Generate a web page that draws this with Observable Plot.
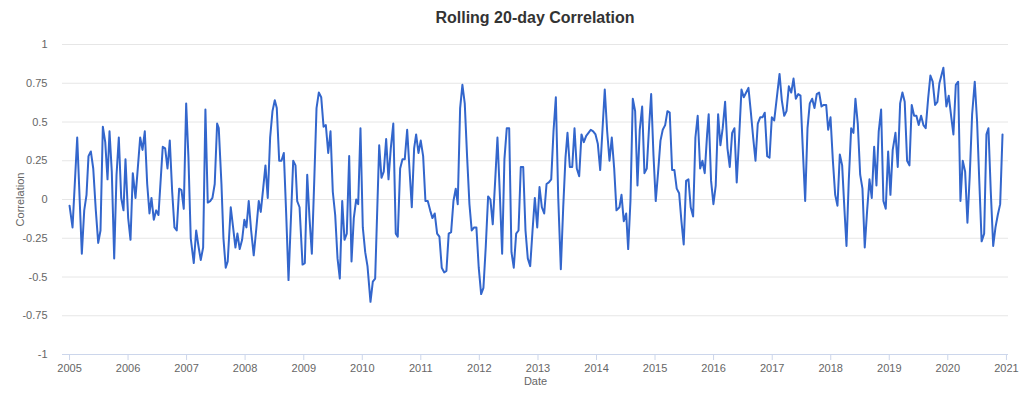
<!DOCTYPE html>
<html><head><meta charset="utf-8">
<script src="https://cdn.jsdelivr.net/npm/d3@7"></script>
<script src="https://cdn.jsdelivr.net/npm/@observablehq/plot@0.6"></script>
<style>
body{margin:0;background:#fff;font-family:"Liberation Sans",Arial,sans-serif;}
#title{height:30px;box-sizing:border-box;padding:9px 16px 0 62px;text-align:center;font-size:16px;font-weight:bold;color:#333;line-height:18px;}
</style></head><body>
<div id="title">Rolling 20-day Correlation</div>
<div id="chart"></div>
<script>
// decimal-year dates
const years = [
2005.000,2005.051,2005.131,2005.210,2005.251,2005.290,2005.324,2005.364,2005.405,2005.449,2005.490,2005.529,2005.569,2005.610,2005.649,2005.683,2005.722,2005.763,2005.803,2005.842,2005.883,2005.922,2005.956,2006.002,2006.042,2006.081,2006.127,
2006.207,2006.247,2006.286,2006.327,2006.366,2006.400,2006.440,2006.481,2006.520,2006.593,2006.634,2006.674,2006.713,2006.754,2006.793,2006.832,2006.873,2006.913,2006.952,2006.993,2007.032,2007.071,2007.123,2007.164,2007.203,2007.242,2007.283,2007.322,2007.362,2007.403,2007.442,2007.481,2007.522,
2007.550,2007.596,2007.630,2007.669,2007.703,2007.755,2007.795,2007.835,2007.869,2007.908,2007.949,2007.988,2008.023,2008.062,2008.103,2008.147,2008.188,2008.233,2008.267,2008.308,2008.347,2008.386,2008.427,2008.467,2008.506,2008.540,2008.581,2008.620,2008.660,2008.701,2008.740,2008.820,2008.859,
2008.888,2008.928,2008.979,2009.018,2009.059,2009.098,2009.138,2009.179,2009.218,2009.257,2009.298,2009.338,2009.377,2009.418,2009.457,2009.496,2009.537,2009.577,2009.616,2009.657,2009.696,2009.735,2009.776,2009.816,2009.855,2009.896,2009.930,2009.969,2010.009,2010.050,2010.089,2010.140,2010.180,2010.220,
2010.289,2010.328,2010.367,2010.408,2010.448,2010.487,2010.530,2010.572,2010.606,2010.647,2010.687,2010.726,2010.767,2010.806,2010.846,2010.886,2010.920,2010.960,2010.999,2011.040,2011.079,2011.119,2011.160,2011.199,2011.238,2011.279,2011.318,2011.358,2011.399,2011.438,2011.477,2011.518,2011.558,2011.597,2011.631,
2011.672,2011.711,2011.751,2011.792,2011.831,2011.870,2011.911,2011.950,2011.990,2012.031,2012.070,2012.109,2012.150,2012.189,2012.229,2012.270,2012.309,2012.348,2012.389,2012.428,2012.468,2012.509,2012.548,2012.587,2012.628,2012.668,2012.707,2012.748,2012.787,2012.826,2012.867,2012.907,2012.946,2012.987,
2013.026,2013.066,2013.106,2013.146,2013.185,2013.226,2013.265,2013.305,2013.346,2013.390,2013.431,2013.470,2013.504,2013.544,2013.585,2013.624,2013.663,2013.704,2013.743,2013.783,2013.824,2013.863,2013.902,2013.943,2013.983,2014.022,2014.063,2014.102,2014.141,2014.182,2014.222,2014.261,2014.302,2014.341,
2014.392,2014.427,2014.466,2014.507,2014.541,2014.580,2014.620,2014.660,2014.700,2014.739,2014.780,2014.819,2014.859,2014.900,2014.934,2014.973,2015.012,2015.053,2015.093,2015.132,2015.173,2015.212,2015.251,2015.292,2015.331,2015.371,2015.412,2015.451,2015.490,2015.531,2015.571,2015.610,2015.651,2015.690,2015.729,
2015.771,2015.810,2015.849,2015.890,2015.917,2015.958,2015.998,2016.037,2016.078,2016.117,2016.156,2016.197,2016.237,2016.276,2016.317,2016.356,2016.395,2016.436,2016.476,2016.515,2016.556,2016.595,2016.634,2016.675,2016.715,2016.754,2016.795,2016.834,2016.873,2016.914,2016.954,2016.993,2017.034,
2017.125,2017.164,2017.205,2017.244,2017.284,2017.325,2017.364,2017.403,2017.444,2017.483,2017.522,2017.563,2017.603,2017.642,2017.683,2017.722,2017.761,2017.802,2017.842,2017.881,2017.922,2017.956,2017.996,2018.035,2018.076,2018.115,2018.155,2018.195,2018.235,2018.269,2018.308,2018.349,2018.388,2018.422,
2018.462,2018.503,2018.542,2018.581,2018.622,2018.662,2018.701,2018.742,2018.781,2018.820,2018.861,2018.900,2018.940,2018.981,2019.020,2019.059,2019.106,2019.145,2019.186,2019.225,2019.264,2019.305,2019.345,2019.384,2019.425,2019.464,2019.503,2019.544,2019.584,2019.623,2019.664,2019.703,2019.742,2019.783,2019.823,
2019.857,2019.891,2019.925,2019.976,2020.016,2020.057,2020.096,2020.137,2020.177,2020.216,2020.255,2020.296,2020.335,2020.374,2020.415,2020.460,2020.500,2020.539,2020.577,2020.620,2020.659,2020.693,2020.733,2020.774,2020.813,2020.852,2020.893,2020.933
];
// rolling 20-day correlation values
const corr = [
-0.04,-0.18,0.40,-0.35,-0.07,0.03,0.28,0.31,0.20,-0.07,-0.28,-0.20,0.47,0.37,0.13,0.44,0.18,-0.38,0.16,0.40,0.01,-0.07,0.26,-0.12,-0.26,0.17,0.01,
0.40,0.32,0.44,0.10,-0.09,0.01,-0.13,-0.07,-0.10,0.34,0.33,0.20,0.38,0.05,-0.18,-0.20,0.07,0.06,-0.06,0.62,0.27,-0.25,-0.41,-0.20,-0.30,-0.39,-0.31,0.58,-0.02,-0.01,0.01,0.10,0.49,
0.46,0.10,-0.25,-0.44,-0.40,-0.05,-0.18,-0.31,-0.22,-0.32,-0.26,-0.13,-0.18,-0.01,-0.20,-0.36,-0.20,-0.01,-0.08,0.07,0.22,0.01,0.40,0.57,0.64,0.59,0.25,0.25,0.30,-0.10,-0.52,0.25,0.22,
-0.01,-0.05,-0.42,-0.41,0.16,-0.12,-0.35,0.12,0.59,0.69,0.66,0.47,0.48,0.30,0.44,0.05,-0.10,-0.38,-0.51,-0.01,-0.26,-0.22,0.28,-0.40,-0.12,0.00,-0.03,0.46,-0.18,-0.34,-0.43,-0.66,-0.53,-0.51,
0.35,0.14,0.18,0.39,0.13,0.33,0.49,-0.22,-0.24,0.20,0.26,0.26,0.45,0.20,-0.05,0.33,0.42,0.30,0.38,0.28,-0.01,-0.01,-0.07,-0.12,-0.09,-0.22,-0.24,-0.44,-0.47,-0.46,-0.22,-0.21,-0.01,0.07,-0.03,
0.59,0.74,0.62,0.27,-0.03,-0.20,-0.18,-0.18,-0.44,-0.61,-0.57,-0.31,0.02,0.00,-0.16,0.12,0.40,0.05,-0.35,0.26,0.46,0.46,-0.34,-0.44,-0.22,-0.20,0.21,0.21,-0.20,-0.38,-0.43,-0.20,0.01,-0.18,
0.08,-0.05,-0.09,0.10,0.11,0.13,0.44,0.66,0.01,-0.45,-0.05,0.27,0.43,0.21,0.21,0.46,0.20,0.15,0.42,0.37,0.41,0.43,0.45,0.44,0.42,0.36,0.19,0.45,0.71,0.44,0.25,0.40,0.20,-0.07,
-0.05,0.03,-0.14,-0.09,-0.32,-0.01,0.65,0.57,0.09,0.45,0.60,0.17,0.20,0.48,0.68,0.29,-0.01,0.18,0.38,0.45,0.48,0.57,0.56,0.19,0.19,0.07,0.04,-0.14,-0.29,0.12,0.13,-0.05,-0.11,0.40,0.54,
0.20,0.25,0.17,0.42,0.55,0.12,-0.03,0.09,0.55,0.35,0.46,0.63,0.33,0.21,0.43,0.46,0.11,0.40,0.71,0.66,0.69,0.72,0.57,0.40,0.25,0.49,0.53,0.53,0.56,0.28,0.27,0.53,0.51,
0.81,0.64,0.54,0.57,0.73,0.69,0.78,0.65,0.68,0.67,0.33,-0.01,0.46,0.62,0.65,0.59,0.68,0.69,0.60,0.61,0.61,0.45,0.53,0.26,0.03,-0.04,0.29,0.22,-0.07,-0.30,0.12,0.46,0.43,0.65,
0.49,0.16,0.07,-0.31,-0.07,0.13,0.01,0.34,0.09,0.44,0.58,-0.01,-0.06,0.31,0.03,0.32,0.43,0.21,0.62,0.69,0.63,0.25,0.22,0.61,0.54,0.54,0.48,0.54,0.48,0.46,0.65,0.80,0.76,0.61,0.63,
0.75,0.80,0.85,0.60,0.67,0.54,0.42,0.74,0.76,-0.01,0.25,0.18,-0.15,0.15,0.55,0.76,0.50,0.10,-0.27,-0.22,0.42,0.46,0.05,-0.30,-0.18,-0.10,-0.03,0.42
];
const yTicks = [-1,-0.75,-0.5,-0.25,0,0.25,0.5,0.75,1];
const xTickYears = [2005,2006,2007,2008,2009,2010,2011,2012,2013,2014,2015,2016,2017,2018,2019,2020,2021];
const xDomainYears = [2004.880, 2021.035];

function dec(y){
  const yr = Math.floor(y);
  const a = Date.UTC(yr,0,1), b = Date.UTC(yr+1,0,1);
  return new Date(a + (y-yr)*(b-a));
}
const data = years.map((y,i)=>({date: dec(y), corr: corr[i]}));
const xTicks = xTickYears.map(y=>new Date(Date.UTC(y,0,1)));

const chart = Plot.plot({
  width: 1024, height: 366,
  marginTop: 14, marginBottom: 42, marginLeft: 62, marginRight: 16,
  style: {fontFamily: '"Liberation Sans", Arial, sans-serif', fontSize: "11px", color: "#666", background: "#fff"},
  x: {type: "utc", domain: xDomainYears.map(dec)},
  y: {domain: [-1, 1]},
  marks: [
    Plot.ruleY(yTicks, {stroke: "#e6e6e6", strokeWidth: 1}),
    Plot.ruleY([-1], {stroke: "#ccd6eb", strokeWidth: 1}),
    Plot.axisX({ticks: xTicks, tickFormat: d3.utcFormat("%Y"), tickSize: 6, tickPadding: 4, stroke: "#ccd6eb", fill: "#666",
      label: "Date", labelAnchor: "center", labelArrow: "none", labelOffset: 30}),
    Plot.axisY({ticks: yTicks, tickFormat: d => String(d), tickSize: 0, tickPadding: 15, fill: "#666",
      label: "Correlation", labelAnchor: "center", labelArrow: "none", labelOffset: 46}),
    Plot.line(data, {x: "date", y: "corr", stroke: "#3366cc", strokeWidth: 2, strokeLinejoin: "round"})
  ]
});
document.getElementById("chart").appendChild(chart);
</script>
</body></html>
